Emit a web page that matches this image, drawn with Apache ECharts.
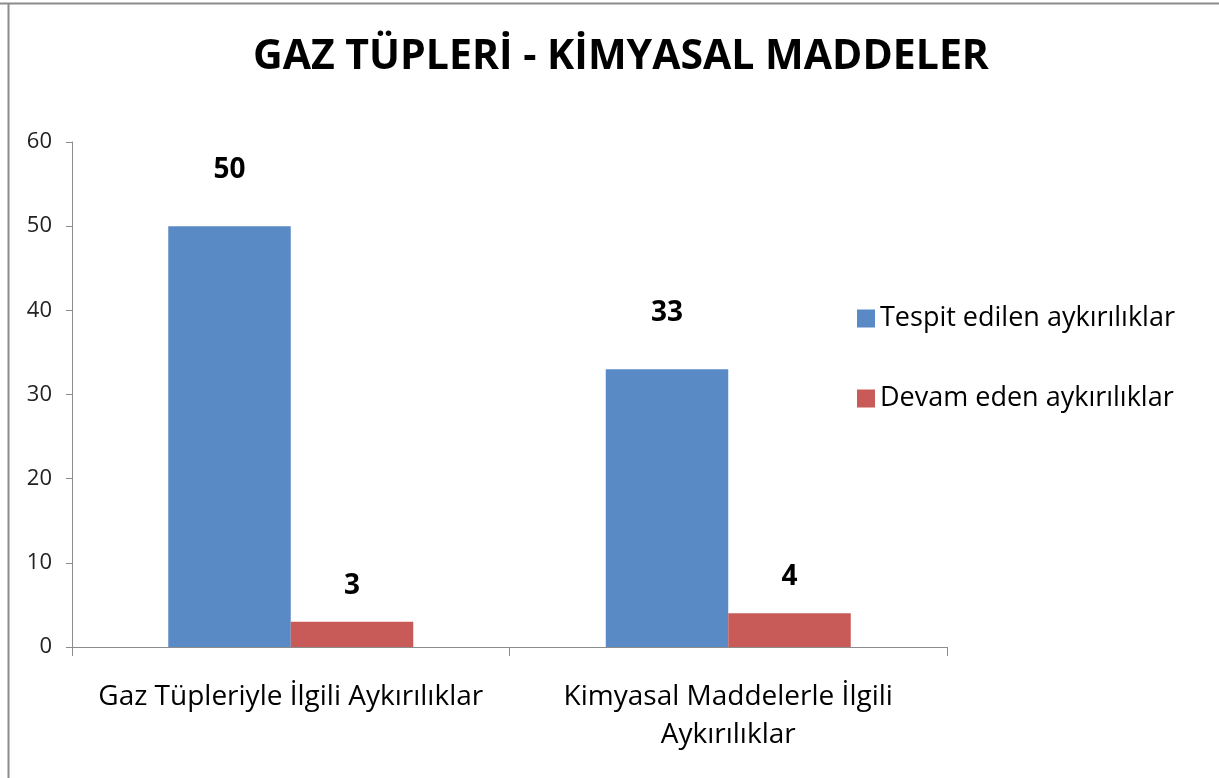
<!DOCTYPE html>
<html>
<head>
<meta charset="utf-8">
<script src="https://cdn.jsdelivr.net/npm/echarts@6/dist/echarts.min.js"></script>
<style>
  html, body { margin: 0; padding: 0; background: #fff; }
  #chart { width: 1219px; height: 778px; }
</style>
</head>
<body>
<div id="chart"></div>
<script>
// veriler
let categories = ['Gaz Tüpleriyle İlgili Aykırılıklar', 'Kimyasal Maddelerle İlgili\nAykırılıklar']
let seriesNames = ['Tespit edilen aykırılıklar', 'Devam eden aykırılıklar']
let tespitEdilen = [50, 33]
let devamEden = [3, 4]
let yTicks = [0, 10, 20, 30, 40, 50, 60]

let fontName = '"Open Sans", Lato, sans-serif'
let myChart = echarts.init(document.getElementById('chart'))

let option = {
    backgroundColor: '#fff',
    animation: false,
    title: {
        text: 'GAZ TÜPLERİ - KİMYASAL MADDELER',
        left: 248,
        top: 32,
        textStyle: { fontFamily: fontName, fontSize: 41, fontWeight: 'bold', color: '#000' }
    },
    // sol ve üst çerçeve çizgisi
    graphic: [
        { type: 'line', shape: { x1: 0, y1: 3.5, x2: 1219, y2: 3.5 }, style: { stroke: '#8c8c8c', lineWidth: 2 } },
        { type: 'line', shape: { x1: 8.5, y1: 3, x2: 8.5, y2: 778 }, style: { stroke: '#8c8c8c', lineWidth: 2 } }
    ],
    legend: {
        orient: 'vertical',
        left: 852,
        top: 300,
        itemGap: 53,
        itemWidth: 18,
        itemHeight: 18,
        icon: 'rect',
        data: seriesNames,
        textStyle: { fontFamily: fontName, fontSize: 27, color: '#000' }
    },
    grid: { left: 72, right: 272, top: 142, bottom: 131, containLabel: false },
    xAxis: {
        type: 'category',
        data: categories,
        axisLine: { lineStyle: { color: '#8c8c8c', width: 1 } },
        axisTick: { show: true, length: 9, lineStyle: { color: '#8c8c8c' } },
        axisLabel: {
            interval: 0,
            hideOverlap: false,
            margin: 31,
            fontFamily: fontName, fontSize: 28, color: '#000', lineHeight: 38
        }
    },
    yAxis: {
        type: 'value',
        min: yTicks[0],
        max: yTicks[yTicks.length - 1],
        interval: 10,
        splitLine: { show: false },
        axisLine: { show: true, lineStyle: { color: '#8c8c8c', width: 1 } },
        axisTick: { show: true, length: 6, lineStyle: { color: '#8c8c8c' } },
        axisLabel: { margin: 20, fontFamily: fontName, fontSize: 22, color: '#222' }
    },
    series: [{
        name: seriesNames[0],
        type: 'bar',
        data: tespitEdilen,
        barWidth: '28%',
        barGap: '0%',
        itemStyle: { color: '#5a8ac6' },
        label: {
            show: true, position: 'top', distance: 42,
            fontFamily: fontName, fontSize: 28, fontWeight: 'bold', color: '#000'
        }
    }, {
        name: seriesNames[1],
        type: 'bar',
        data: devamEden,
        barWidth: '28%',
        itemStyle: { color: '#c85b58' },
        label: {
            show: true, position: 'top', distance: 22,
            fontFamily: fontName, fontSize: 28, fontWeight: 'bold', color: '#000'
        }
    }]
}
myChart.setOption(option)
</script>
</body>
</html>
